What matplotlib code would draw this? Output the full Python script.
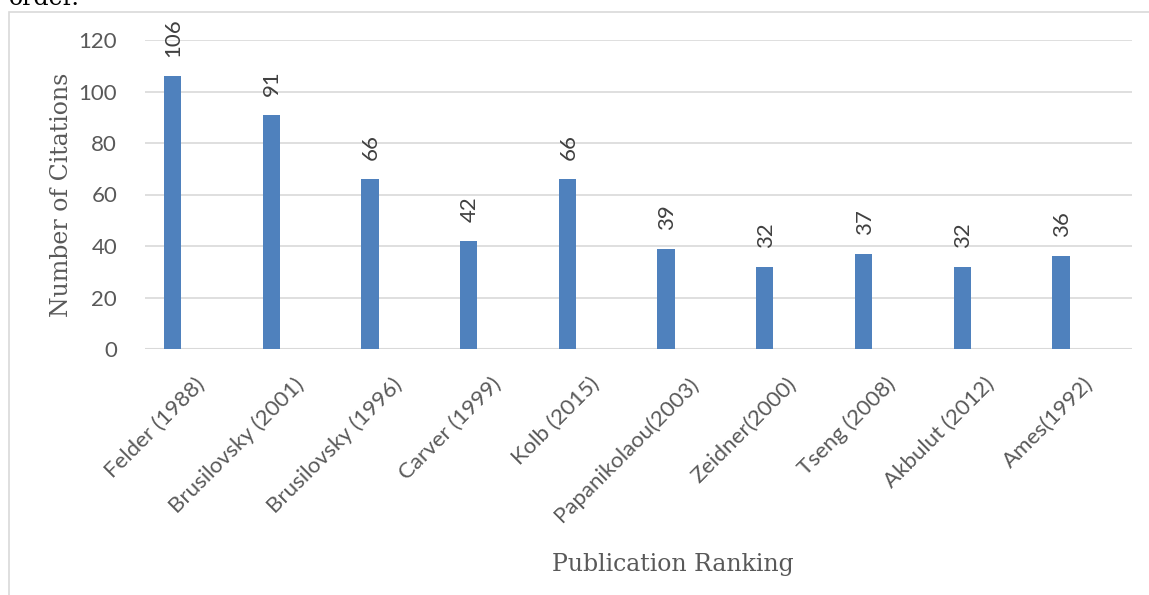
import numpy as np
import matplotlib.pyplot as plt
from matplotlib.patches import Rectangle

publications = ["Felder (1988)", "Brusilovsky (2001)", "Brusilovsky (1996)", "Carver (1999)",
                "Kolb (2015)", "Papanikolaou(2003)", "Zeidner(2000)", "Tseng (2008)",
                "Akbulut (2012)", "Ames(1992)"]
citations = [106, 91, 66, 42, 66, 39, 32, 37, 32, 36]
y_ticks = [0, 20, 40, 60, 80, 100, 120]

fig = plt.figure(figsize=(11.49, 5.95), dpi=100)

# chart frame and the tail of the preceding paragraph
fig.patches.append(Rectangle((9 / 1149, -0.1), 1.2, 1 - 12 / 595 + 0.1, transform=fig.transFigure,
                             fill=False, edgecolor="#d9d9d9", linewidth=1.2))
fig.text(9 / 1149, 1 - 5 / 595, "order.", family="DejaVu Serif", fontsize=17, color="black",
         va="baseline", ha="left")

ax = fig.add_axes([145 / 1149, 1 - 349 / 595, (1132 - 145) / 1149, (349 - 40) / 595])

x = np.arange(len(publications))
bar_x = x - 0.22
bars = ax.bar(bar_x, citations, width=0.175, color="#4f81bd", zorder=3)

for bx, v in zip(bar_x, citations):
    ax.annotate(str(v), (bx, v), xytext=(1, 19), textcoords="offset pixels",
                rotation=90, ha="center", va="bottom", family="Lato",
                fontsize=16, color="#404040", annotation_clip=False)

ax.set_xlim(-0.5, len(publications) - 0.5)
ax.set_ylim(0, 120)
ax.set_yticks(y_ticks)
ax.set_xticks(x)
ax.set_xticklabels(publications, rotation=45, ha="right", rotation_mode="anchor",
                   family="Lato", fontsize=16, color="#595959")
for lbl in ax.get_yticklabels():
    lbl.set_family("Lato")
    lbl.set_fontsize(16)
    lbl.set_color("#595959")
ax.tick_params(axis="both", length=0)
ax.tick_params(axis="y", pad=20)
ax.tick_params(axis="x", pad=18)
ax.grid(axis="y", color="#d9d9d9", linewidth=1.2, zorder=0)
for s in ax.spines.values():
    s.set_visible(False)
ax.axhline(0, color="#d9d9d9", linewidth=1.5, zorder=2)

fig.text(62 / 1149, 1 - 195 / 595, "Number of Citations", rotation=90, ha="center", va="center",
         family="DejaVu Serif", fontsize=17, color="#595959")
fig.text(673 / 1149, 1 - 564 / 595, "Publication Ranking", ha="center", va="center",
         family="DejaVu Serif", fontsize=17, color="#595959")

fig.savefig("out.png", dpi=100)
